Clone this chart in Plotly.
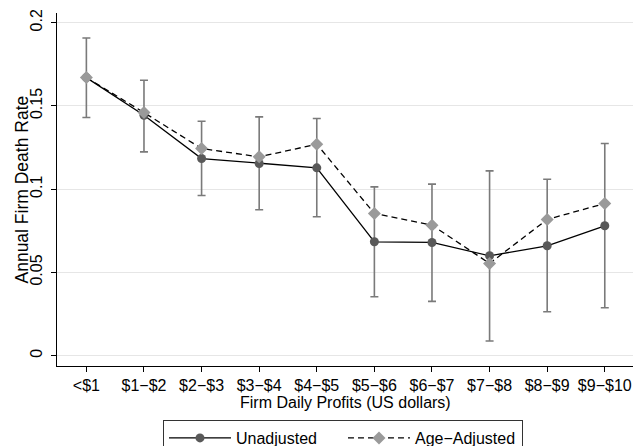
import plotly.graph_objects as go

categories = ["<$1", "$1−$2", "$2−$3", "$3−$4", "$4−$5", "$5−$6", "$6−$7", "$7−$8", "$8−$9", "$9−$10"]
unadjusted = [0.167, 0.1444, 0.1184, 0.1154, 0.1128, 0.0684, 0.068, 0.060, 0.066, 0.078]
age_adjusted = [0.167, 0.146, 0.1244, 0.1194, 0.127, 0.0854, 0.0784, 0.0554, 0.0818, 0.0914]
ci_upper = [0.1908, 0.1654, 0.1408, 0.1434, 0.1424, 0.1014, 0.103, 0.111, 0.106, 0.1274]
ci_lower = [0.143, 0.1224, 0.0962, 0.0876, 0.0834, 0.0354, 0.0326, 0.0088, 0.0264, 0.0288]
y_ticks = [0, 0.05, 0.1, 0.15, 0.2]
y_ticklabels = ["0", "0.05", "0.1", "0.15", "0.2"]
x_title = "Firm Daily Profits (US dollars)"
y_title = "Annual Firm Death Rate"

x = list(range(len(categories)))
err_plus = [u - v for u, v in zip(ci_upper, unadjusted)]
err_minus = [v - l for v, l in zip(unadjusted, ci_lower)]

FONT = "Liberation Sans, Arial, sans-serif"

fig = go.Figure()
fig.add_trace(go.Scatter(
    x=x, y=unadjusted, mode="markers", showlegend=False, hoverinfo="skip",
    marker=dict(size=1, color="rgba(0,0,0,0)"),
    error_y=dict(type="data", symmetric=False, array=err_plus, arrayminus=err_minus,
                 color="#7a7a7a", thickness=1.6, width=4),
))
fig.add_trace(go.Scatter(
    x=x, y=unadjusted, mode="lines+markers", name="Unadjusted",
    line=dict(color="black", width=1.3),
    marker=dict(symbol="circle", size=9, color="#595959"),
))
fig.add_trace(go.Scatter(
    x=x, y=age_adjusted, mode="lines+markers", name="Age−Adjusted",
    line=dict(color="black", width=1.3, dash="6px,4px"),
    marker=dict(symbol="diamond", size=10, color="#9a9a9a"),
))

fig.update_layout(
    width=634, height=446,
    margin=dict(l=57, r=1, t=13, b=80, autoexpand=False),
    paper_bgcolor="white", plot_bgcolor="white",
    font=dict(family=FONT, size=16, color="black"),
    showlegend=True,
    legend=dict(orientation="h", x=0.4965, xanchor="center", y=-0.153, yanchor="top",
                bordercolor="#333333", borderwidth=1, bgcolor="white",
                font=dict(size=16), traceorder="normal", itemwidth=62,
                entrywidth=102, entrywidthmode="pixels"),
    xaxis=dict(
        tickvals=x, ticktext=categories, range=[-0.51, 9.49],
        showgrid=False, zeroline=False, automargin=False,
        showline=True, linecolor="black", linewidth=1,
        ticks="outside", ticklen=5, tickcolor="black",
    ),
    yaxis=dict(
        tickvals=y_ticks, ticktext=y_ticklabels, range=[-0.0062, 0.2058],
        showgrid=True, gridcolor="#e6e6e6", gridwidth=1, zeroline=False, automargin=False,
        showline=True, linecolor="black", linewidth=1,
        ticks="outside", ticklen=5, tickcolor="black", tickangle=-90,
        ticklabelstandoff=3,
    ),
    annotations=[
        dict(text=x_title, xref="paper", yref="paper", x=0.5, y=-0.102,
             xanchor="center", yanchor="middle", showarrow=False, font=dict(size=16)),
        dict(text=y_title, xref="paper", yref="paper", x=-0.0625, y=0.5,
             xanchor="center", yanchor="middle", textangle=-90, showarrow=False,
             font=dict(size=17.5)),
    ],
)

fig.write_html("out.html", config={"displayModeBar": False},
               post_script="document.body.style.margin='0';")
